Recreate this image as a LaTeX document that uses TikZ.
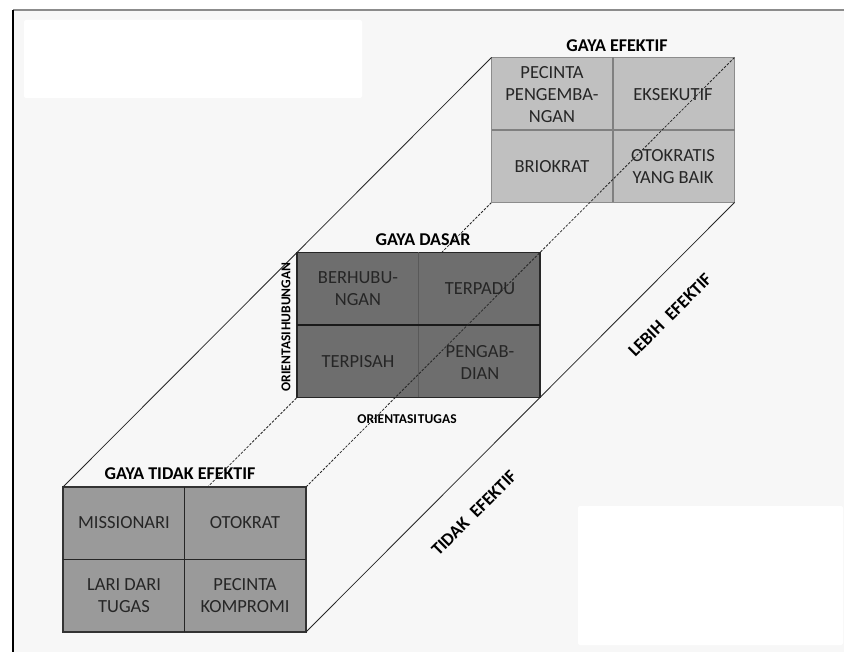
\documentclass[tikz,border=0pt]{standalone}
\usepackage{fontspec}
\setmainfont{Carlito}
\definecolor{bgc}{HTML}{F7F7F7}
\definecolor{efffill}{HTML}{C0C0C0}
\definecolor{basefill}{HTML}{6E6E6E}
\definecolor{inefffill}{HTML}{9A9A9A}
\definecolor{txt}{HTML}{262626}
\tikzset{
  panel/.style={draw, line width=1.3pt, minimum width=243pt, minimum height=145pt, inner sep=0pt, outer sep=0pt},
  cell/.style={align=center, text=txt, font=\fontsize{18.5}{22}\selectfont, inner sep=0pt},
  ttl/.style={font=\bfseries\fontsize{18}{20}\selectfont, text=black, inner sep=0pt},
  axis/.style={font=\bfseries\fontsize{13.5}{15}\selectfont, text=black, inner sep=0pt},
  side/.style={font=\bfseries\fontsize{18}{20}\selectfont, text=black, inner sep=0pt, rotate=45},
  edge/.style={line width=0.8pt, draw=black!85},
  hidden/.style={line width=0.8pt, draw=black!85, dash pattern=on 2.5pt off 1.5pt},
}
\begin{document}
\begin{tikzpicture}[x=1pt, y=-1pt]
\useasboundingbox (0,0) rectangle (844,652);
% frame and background
\fill[white] (0,0) rectangle (844,652);
\fill[bgc] (13,10) rectangle (844,652);
\draw[line width=1.2pt, black!45] (13,10) -- (844,10);
\draw[line width=2pt, black] (13,10) -- (13,652);
% white patches
\fill[white, rounded corners=2pt] (24,20) rectangle (362,98);
\fill[white, rounded corners=2pt] (578,506) rectangle (843,645);

% coordinates of panel centres
\coordinate (ceff) at (613,130);
\coordinate (cbase) at (418.5,325);
\coordinate (cineff) at (184.5,559.5);

% hidden edge (behind panels)
\path (cineff) ++(-121.5,72.5) coordinate (ineffSW);
\path (ceff) ++(-121.5,72.5) coordinate (effSW);
\draw[hidden] (ineffSW) -- (effSW);

% panels
\node[panel, fill=efffill, draw=black!45] (eff) at (ceff) {};
\node[panel, fill=basefill, draw=black!85] (base) at (cbase) {};
\node[panel, fill=inefffill, draw=black!80] (ineff) at (cineff) {};

% grid lines
\draw[line width=1.2pt, black!50] (eff.north) -- (eff.south);
\draw[line width=1.2pt, black!50] (eff.west) -- (eff.east);
\draw[line width=1pt, black!65] (base.north) -- (base.south);
\draw[line width=1.8pt, black!90] (base.west) -- (base.east);
\draw[line width=1.3pt, black!85] (ineff.north) -- (ineff.south);
\draw[line width=1.3pt, black!85] (ineff.west) -- (ineff.east);

% long edges
\draw[edge] (ineff.north west) -- (eff.north west);
\draw[edge] (ineff.south east) -- (eff.south east);
\draw[hidden] (ineff.north east) -- (eff.north east);

% cell texts: effective
\node[cell] (e1) at (552,95) {PECINTA\\PENGEMBA-\\NGAN};
\node[cell] (e2) at (673,95) {EKSEKUTIF};
\node[cell] (e3) at (552,167) {BRIOKRAT};
\node[cell] (e4) at (673,167) {OTOKRATIS\\YANG BAIK};
% cell texts: base
\node[cell] (b1) at (358,289) {BERHUBU-\\NGAN};
\node[cell] (b2) at (480,289) {TERPADU};
\node[cell] (b3) at (358,362) {TERPISAH};
\node[cell] (b4) at (480,362) {PENGAB-\\DIAN};
% cell texts: ineffective
\node[cell] (i1) at (124,523) {MISSIONARI};
\node[cell] (i2) at (245,523) {OTOKRAT};
\node[cell] (i3) at (124,596) {LARI DARI\\TUGAS};
\node[cell] (i4) at (245,596) {PECINTA\\KOMPROMI};

% titles
\node[ttl] (teff) at (617,46) {GAYA EFEKTIF};
\node[ttl] (tbase) at (423,240) {GAYA DASAR};
\node[ttl] (tineff) at (180,474) {GAYA TIDAK EFEKTIF};

% axis labels
\node[axis] (ot) at (407,419) {ORIENTASI\kern1pt TUGAS};
\node[axis, rotate=90] (oh) at (286,327) {ORIENTASI\kern1pt HUBUNGAN};

% side labels
\node[side] (le) at (670,315) {LEBIH\hspace{9pt}EFEKTIF};
\node[side] (te) at (474,513) {TIDAK\hspace{9pt}EFEKTIF};
\end{tikzpicture}
\end{document}
